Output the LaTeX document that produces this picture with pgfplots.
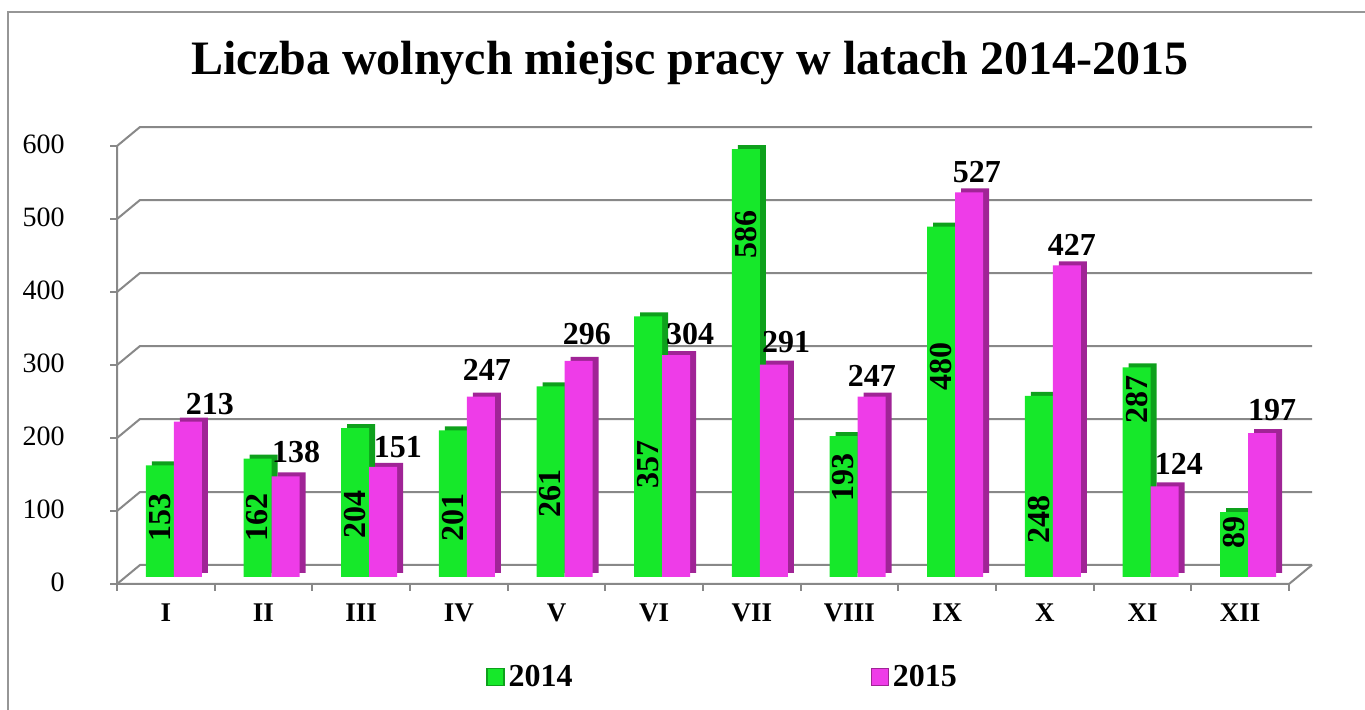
\documentclass[border=0pt]{standalone}
\usepackage{pgfplots}
\pgfplotsset{compat=1.18}
\usepackage{fontspec}
\setmainfont{Liberation Serif}
\definecolor{gfront}{RGB}{22,232,42}
\definecolor{gside}{RGB}{14,160,28}
\definecolor{pfront}{RGB}{238,60,232}
\definecolor{pside}{RGB}{160,36,150}
\definecolor{gridc}{RGB}{136,136,136}
\definecolor{framec}{RGB}{150,150,150}
\begin{document}
\begin{tikzpicture}
\begin{scope}[x=0.5pt,y=-0.5pt]
\useasboundingbox (0,0) rectangle (1365,710);
\draw[framec, line width=0.8pt] (8,712) -- (8,12) -- (1367,12);
\node[font=\fontsize{24}{28}\selectfont\bfseries] at (690,63) {Liczba wolnych miejsc pracy w latach 2014-2015};
\end{scope}
\begin{axis}[
  at={(62.5pt,-288.5pt)}, anchor=south west,
  scale only axis, width=586pt, height=219pt,
  xmin=-0.5, xmax=11.5, ymin=0, ymax=600,
  clip=false,
  axis line style={draw=none}, major tick style={draw=none},
  xtick={0,...,11}, xticklabels={I,II,III,IV,V,VI,VII,VIII,IX,X,XI,XII},
  ytick={0,100,...,600},
  xticklabel style={font=\fontsize{13.5}{16}\selectfont\bfseries, anchor=north, inner sep=0pt, yshift=-13pt, xshift=-4pt},
  yticklabel style={font=\fontsize{14}{16}\selectfont, anchor=east, inner sep=0pt, xshift=-30pt, yshift=-2.5pt},
  /pgf/number format/assume math mode=true,
  legend columns=2,
  legend style={draw=none, fill=none, at={(rel axis cs:0.308,-0.228)}, anchor=west, inner sep=0pt,
    font=\fontsize{16}{18}\selectfont\bfseries,
    /tikz/every even column/.append style={column sep=147pt},
    nodes={inner sep=2pt}},
]
% grid lines (3D style)
\pgfplotsinvokeforeach{0,100,200,300,400,500,600}{
  \draw[gridc, line width=1pt] ([shift={(-4pt,-3.5pt)}]axis cs:-0.5,#1) -- ([shift={(7.5pt,6pt)}]axis cs:-0.5,#1) -- ([shift={(7.5pt,6pt)}]axis cs:11.5,#1);
  \draw[gridc, line width=1pt] ([shift={(-4pt,-3.5pt)}]axis cs:-0.5,#1) -- ++(-3.5pt,0pt);
}
\draw[gridc, line width=1pt] ([shift={(-4pt,-3.5pt)}]axis cs:-0.5,600) -- ([shift={(-4pt,-3.5pt)}]axis cs:-0.5,0) -- ([shift={(-4pt,-3.5pt)}]axis cs:11.5,0) -- ([shift={(7.5pt,6pt)}]axis cs:11.5,0);
\pgfplotsinvokeforeach{-0.5,0.5,1.5,2.5,3.5,4.5,5.5,6.5,7.5,8.5,9.5,10.5,11.5}{
  \draw[gridc, line width=1pt] ([shift={(-4pt,-3.5pt)}]axis cs:#1,0) -- ++(0pt,-3.5pt);
}
% depth faces
\addplot[ybar, bar width=14pt, bar shift=-4pt, yshift=2pt, fill=gside, draw=none, forget plot]
 coordinates {(0,153)(1,162)(2,204)(3,201)(4,261)(5,357)(6,586)(7,193)(8,480)(9,248)(10,287)(11,89)};
\addplot[ybar, bar width=14pt, bar shift=10pt, yshift=2pt, fill=pside, draw=none, forget plot]
 coordinates {(0,213)(1,138)(2,151)(3,247)(4,296)(5,304)(6,291)(7,247)(8,527)(9,427)(10,124)(11,197)};
% front faces
\addplot[ybar, bar width=14pt, bar shift=-7pt, fill=gfront, draw=none,
  legend image code/.code={\filldraw[fill=gfront, draw=gside, line width=0.6pt] (0pt,-4.25pt) rectangle (8.5pt,4.25pt);}]
 coordinates {(0,153)(1,162)(2,204)(3,201)(4,261)(5,357)(6,586)(7,193)(8,480)(9,248)(10,287)(11,89)};
\addlegendentry{2014}
\addplot[ybar, bar width=14pt, bar shift=7pt, fill=pfront, draw=none,
  legend image code/.code={\filldraw[fill=pfront, draw=pside, line width=0.6pt] (0pt,-4.25pt) rectangle (8.5pt,4.25pt);}]
 coordinates {(0,213)(1,138)(2,151)(3,247)(4,296)(5,304)(6,291)(7,247)(8,527)(9,427)(10,124)(11,197)};
\addlegendentry{2015}
% value labels 2014 (rotated, inside)
\addplot[only marks, mark=none, forget plot, nodes near coords, point meta=explicit symbolic,
  every node near coord/.style={font=\fontsize{16}{18}\selectfont\bfseries, inner sep=0pt, rotate=90, anchor=center, text=black}]
 coordinates {(-0.143,82)[153] (0.857,82)[162] (1.857,85)[204] (2.857,82)[201] (3.857,115)[261] (4.857,154)[357] (5.857,469)[586] (6.857,136)[193] (7.857,289)[480] (8.857,79)[248] (9.857,243)[287] (10.857,61)[89]};
% value labels 2015
\addplot[only marks, mark=none, forget plot, nodes near coords, point meta=explicit symbolic,
  every node near coord/.style={font=\fontsize{16}{18}\selectfont\bfseries, inner sep=0pt, anchor=base, text=black}]
 coordinates {(0.370,222)[213] (1.251,157)[138] (2.295,164)[151] (3.206,269)[247] (4.230,319)[296] (5.285,318)[304] (6.268,307)[291] (7.148,261)[247] (8.223,540)[527] (9.196,441)[427] (10.29,140)[124] (11.244,215)[197]};
\end{axis}
\end{tikzpicture}
\end{document}
